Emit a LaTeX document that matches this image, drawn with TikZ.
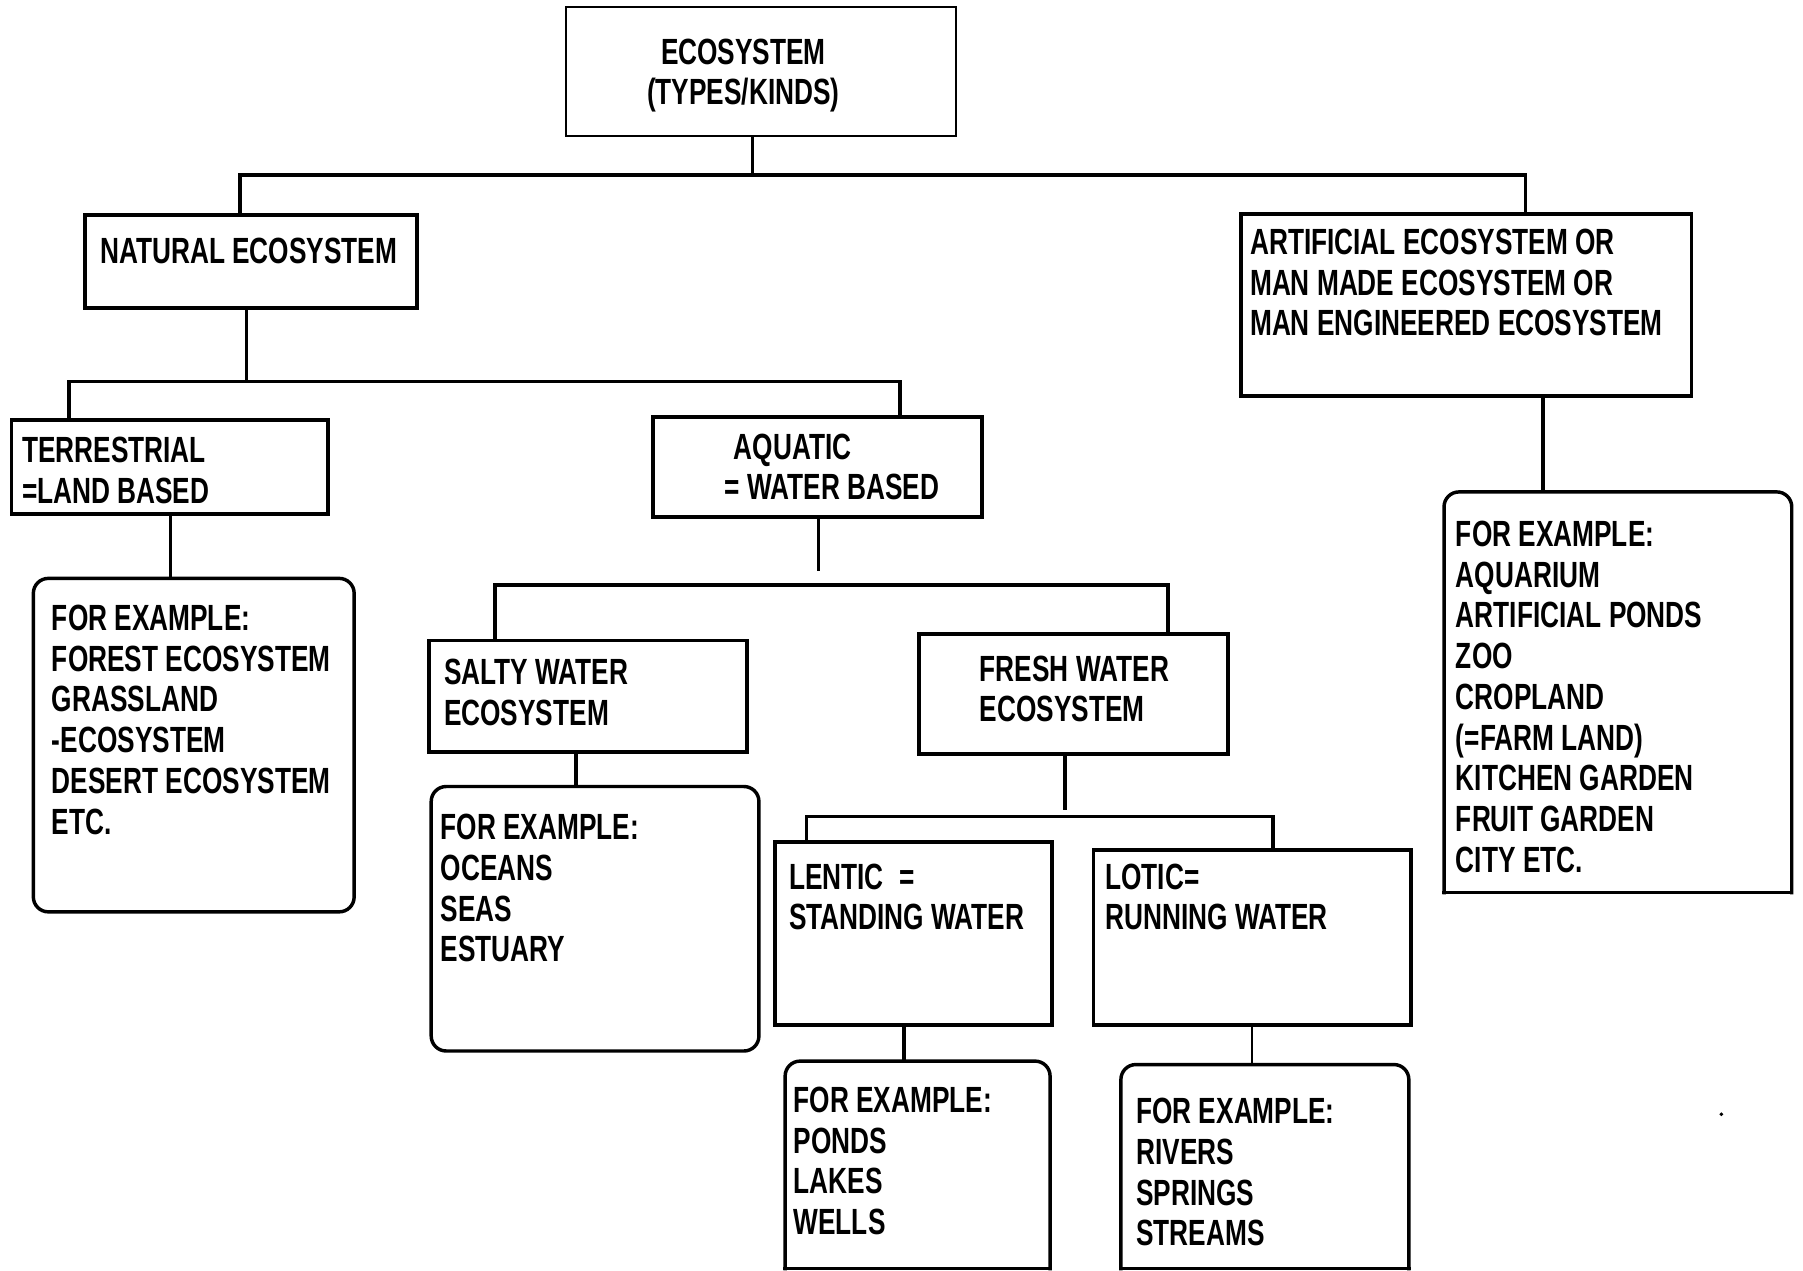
\documentclass[tikz,border=0pt]{standalone}
\usepackage{fontspec}
\newfontfamily\diafont[FakeStretch=0.72]{Liberation Sans}
\begin{document}
\begin{tikzpicture}[x=1pt,y=-1pt,
  lbl/.style={font=\diafont\bfseries\fontsize{31.7}{35.4}\selectfont,
              anchor=north west, inner sep=0pt, align=left},
  panel/.style={rectangle, inner sep=0pt},
  thickbox/.style={panel, draw, line width=3.4pt},
  thinbox/.style={panel, draw, line width=1.8pt},
  roundbox/.style={panel, draw, line width=3pt, rounded corners=13pt},
  exline/.style={line width=3pt, line cap=rect},
  conn/.style={line width=3pt},
  thinconn/.style={line width=1.8pt},
  bus/.style={line width=3.3pt}
]
\newcommand\panelat[6]{% style, name, x1, y1, x2, y2
  \pgfmathsetmacro\pw{#5-#3}\pgfmathsetmacro\ph{#6-#4}%
  \node[#1, minimum width=\pw pt, minimum height=\ph pt] (#2)
    at ({(#3+#5)/2},{(#4+#6)/2}) {};}
\useasboundingbox (0,0) rectangle (1568,1105);
\fill[white] (0,0) rectangle (1568,1105);

% boxes
\panelat{thinbox}{eco}{492}{6}{831}{118}
\panelat{thickbox}{nat}{74}{187}{363}{268}
\panelat{thickbox}{art}{1079}{186}{1471}{344}
\panelat{thickbox}{ter}{10}{365}{285}{447}
\panelat{thickbox}{aqu}{568}{363}{854}{450}
\panelat{roundbox}{terex}{29}{503}{308}{793}
\panelat{thickbox}{sal}{373}{557}{650}{654}
\panelat{thickbox}{fre}{799}{551}{1068}{656}
\panelat{roundbox}{salex}{375}{684}{660}{914}
\panelat{thickbox}{len}{674}{732}{915}{891}
\panelat{thickbox}{lot}{951}{739}{1227}{891}
\panelat{panel}{artex}{1256}{428}{1558}{776}
\panelat{panel}{lenex}{683}{923}{913}{1103}
\panelat{panel}{lotex}{975}{926}{1225}{1103}

% example boxes rounded only on top
\foreach \b in {artex,lenex,lotex}{
  \draw[exline, rounded corners=13pt] (\b.south west) -- (\b.north west)
    -- (\b.north east) -- (\b.south east);
  \draw[exline] (\b.south west) -- (\b.south east);
}

% bus junctions
\coordinate (b1t) at (654.4,152);
\coordinate (b1l) at (208.6,152);
\coordinate (b1r) at (1326.7,152);
\coordinate (b2t) at (214.6,331.7);
\coordinate (b2l) at (60,331.7);
\coordinate (b2r) at (782.6,331.7);
\coordinate (b3t) at (712,497);
\coordinate (b3l) at (430.3,508.7);
\coordinate (b3r) at (1015.8,508.7);
\coordinate (b4t) at (926,704);
\coordinate (b4l) at (701.4,710);
\coordinate (b4r) at (1107,710);

% connectors
\draw[conn] (eco.south -| b1t) -- (b1t);
\draw[bus] (nat.north -| b1l) -- (b1l) -- (b1r) -- (art.north -| b1r);
\draw[conn] (nat.south -| b2t) -- (b2t);
\draw[bus] (ter.north -| b2l) -- (b2l) -- (b2r) -- (aqu.north -| b2r);
\draw[thinconn] (ter.south -| 148.3,0) -- (terex.north -| 148.3,0);
\draw[conn] (art.south -| 1342,0) -- (artex.north -| 1342,0);
\draw[conn] (aqu.south -| b3t) -- (b3t);
\draw[bus] (sal.north -| b3l) -- (b3l) -- (b3r) -- (fre.north -| b3r);
\draw[conn] (sal.south -| 500.8,0) -- (salex.north -| 500.8,0);
\draw[conn] (fre.south -| b4t) -- (b4t);
\draw[bus] (len.north -| b4l) -- (b4l) -- (b4r) -- (lot.north -| b4r);
\draw[conn] (len.south -| 786,0) -- (lenex.north -| 786,0);
\draw[thinconn] (lot.south -| 1088.6,0) -- (lotex.north -| 1088.6,0);

% labels
\node[lbl, anchor=north, align=center] (t-eco) at (646.5,33.5) {ECOSYSTEM\\(TYPES/KINDS)};
\node[lbl] (t-nat) at (87,206.5) {NATURAL ECOSYSTEM};
\node[lbl] (t-art) at (1087,199) {ARTIFICIAL ECOSYSTEM OR\\MAN MADE ECOSYSTEM OR\\MAN ENGINEERED ECOSYSTEM};
\node[lbl] (t-ter) at (19,380) {TERRESTRIAL\\=LAND BASED};
\node[lbl] (t-aqu) at (630,377) {\hspace*{8pt}AQUATIC\\= WATER BASED};
\node[lbl] (t-terex) at (45,526) {FOR EXAMPLE:\\FOREST ECOSYSTEM\\GRASSLAND\\-ECOSYSTEM\\DESERT ECOSYSTEM\\ETC.};
\node[lbl] (t-sal) at (386,573) {SALTY WATER\\ECOSYSTEM};
\node[lbl] (t-salex) at (383,708) {FOR EXAMPLE:\\OCEANS\\SEAS\\ESTUARY};
\node[lbl] (t-fre) at (852,570) {FRESH WATER\\ECOSYSTEM};
\node[lbl] (t-len) at (686,751) {LENTIC\hspace{14pt}=\\STANDING WATER};
\node[lbl] (t-lenex) at (690,945) {FOR EXAMPLE:\\PONDS\\LAKES\\WELLS};
\node[lbl] (t-lot) at (961,751) {LOTIC=\\RUNNING WATER};
\node[lbl] (t-lotex) at (988,955) {FOR EXAMPLE:\\RIVERS\\SPRINGS\\STREAMS};
\node[lbl] (t-artex) at (1266,453) {FOR EXAMPLE:\\AQUARIUM\\ARTIFICIAL PONDS\\ZOO\\CROPLAND\\(=FARM LAND)\\KITCHEN GARDEN\\FRUIT GARDEN\\CITY ETC.};

% stray mark
\fill (1497,969) circle (1.7);
\end{tikzpicture}
\end{document}
